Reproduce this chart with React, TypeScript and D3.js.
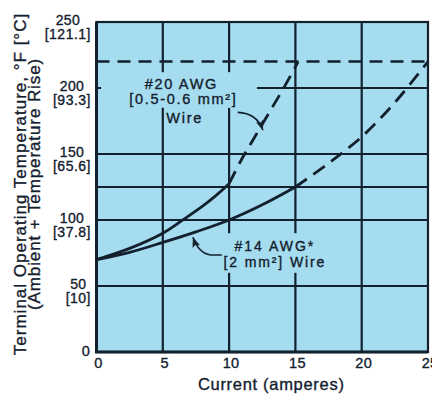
import { useEffect, useRef } from 'react';
import * as d3 from 'd3';

const WIDTH = 432;
const HEIGHT = 397;

// axis ticks: °F with °C in brackets
const tempTicksF = [0, 50, 100, 150, 200, 250];
const tempTicksC = ['', '[10]', '[37.8]', '[65.6]', '[93.3]', '[121.1]'];
const currentTicks = [0, 5, 10, 15, 20, 25];
const gridTemps = [50, 100, 125, 150, 200];
const limitTemp = 220;

// #20 AWG wire (solid up to ~125 °F, dashed beyond)
const awg20Amps = [0, 2.5, 5, 6.5, 8, 9, 10];
const awg20Temp = [70, 78.5, 90, 100, 110.5, 118.5, 127.5];
const awg20HotAmps = [10, 11, 12, 13, 14, 15, 15.2];
const awg20HotTemp = [127.5, 147, 164, 181, 198, 216, 220];

// #14 AWG wire
const awg14Amps = [0, 2.5, 5, 7.5, 10, 12.5, 15];
const awg14Temp = [70, 75.5, 83, 91, 100, 111.5, 125];
const awg14HotAmps = [15, 17.5, 20, 22.5, 25];
const awg14HotTemp = [125, 143, 163, 189, 220];

const INK = '#13202e';
const BLUE = '#a5dcef';
const FONT = '"Liberation Sans", Arial, Helvetica, sans-serif';

function App() {
    const ref = useRef<SVGSVGElement>(null);

    const draw = () => {
        const svg = d3.select(ref.current);
        svg.selectAll('*').remove();

        const x = d3.scaleLinear().domain([0, 25]).range([96.5, 428]);
        const y = d3.scaleLinear().domain([0, 250]).range([352, 22]);

        // plot background
        svg.append('rect')
            .attr('x', x(0)).attr('y', y(250))
            .attr('width', x(25) - x(0)).attr('height', y(0) - y(250))
            .attr('fill', BLUE);

        // grid
        const grid = svg.append('g').attr('stroke', INK).attr('stroke-width', 2.2);
        grid.selectAll('line.h')
            .data(gridTemps)
            .enter()
            .append('line')
            .attr('x1', x(0)).attr('x2', x(25))
            .attr('y1', d => y(d)).attr('y2', d => y(d));
        grid.selectAll('line.v')
            .data(currentTicks.slice(1, -1))
            .enter()
            .append('line')
            .attr('y1', y(0)).attr('y2', y(250))
            .attr('x1', d => x(d)).attr('x2', d => x(d));

        // 220 °F limit
        svg.append('line')
            .attr('x1', x(0)).attr('x2', x(25))
            .attr('y1', y(limitTemp)).attr('y2', y(limitTemp))
            .attr('stroke', INK).attr('stroke-width', 2.5)
            .attr('stroke-dasharray', '13,8');

        // knock out grid behind labels
        const knock = [
            [0.35, 12.1, 212, 185],
            [5.1, 8.1, 185, 172],
            [8.9, 18.5, 90, 60]
        ];
        svg.append('g').selectAll('rect')
            .data(knock)
            .enter()
            .append('rect')
            .attr('x', d => x(d[0])).attr('width', d => x(d[1]) - x(d[0]))
            .attr('y', d => y(d[2])).attr('height', d => y(d[3]) - y(d[2]))
            .attr('fill', BLUE);

        // frame
        svg.append('rect')
            .attr('x', x(0)).attr('y', y(250))
            .attr('width', x(25) - x(0)).attr('height', y(0) - y(250))
            .attr('fill', 'none').attr('stroke', INK).attr('stroke-width', 2.2);
        svg.append('path')
            .attr('d', `M${x(0)},${y(250)}V${y(0)}H${x(25)}`)
            .attr('fill', 'none').attr('stroke', INK).attr('stroke-width', 3);

        // curves
        const line = d3.line<[number, number]>()
            .x(d => x(d[0])).y(d => y(d[1]))
            .curve(d3.curveCatmullRom.alpha(0.5));
        const series = [
            { a: awg20Amps, t: awg20Temp, dash: null },
            { a: awg20HotAmps, t: awg20HotTemp, dash: '14,8' },
            { a: awg14Amps, t: awg14Temp, dash: null },
            { a: awg14HotAmps, t: awg14HotTemp, dash: '14,8' }
        ];
        series.forEach(s => {
            svg.append('path')
                .attr('d', line(s.a.map((v, i) => [v, s.t[i]] as [number, number])))
                .attr('fill', 'none').attr('stroke', INK).attr('stroke-width', 2.8)
                .attr('stroke-dasharray', s.dash);
        });

        // arrow marker
        svg.append('defs').append('marker')
            .attr('id', 'head')
            .attr('viewBox', '0 0 10 8')
            .attr('refX', 10).attr('refY', 4)
            .attr('markerWidth', 11).attr('markerHeight', 8)
            .attr('markerUnits', 'userSpaceOnUse')
            .attr('orient', 'auto')
            .append('path').attr('d', 'M0,0L10,4L0,8L2,4Z').attr('fill', INK);

        svg.append('path')
            .attr('d', `M${x(10.65)},${y(181.5)}Q${x(12.1)},${y(181)} ${x(12.55)},${y(168)}`)
            .attr('fill', 'none').attr('stroke', INK).attr('stroke-width', 1.6)
            .attr('marker-end', 'url(#head)');
        svg.append('path')
            .attr('d', `M${x(9.45)},${y(73.5)}L${x(8.6)},${y(73.5)}Q${x(7.7)},${y(75)} ${x(7.27)},${y(87)}`)
            .attr('fill', 'none').attr('stroke', INK).attr('stroke-width', 1.6)
            .attr('marker-end', 'url(#head)');

        // labels
        const txt = (tx: number, ty: number, s: string, anchor = 'middle', size = 14.5, ls = 1.7) =>
            svg.append('text')
                .attr('x', tx).attr('y', ty)
                .attr('text-anchor', anchor)
                .attr('font-family', FONT).attr('font-size', size)
                .attr('letter-spacing', ls)
                .attr('fill', INK)
                .attr('stroke', INK).attr('stroke-width', 0.35)
                .text(s);

        txt(x(6.4), y(199), '#20 AWG');
        txt(x(6.55), y(188), '[0.5-0.6 mm²]');
        txt(x(6.65), y(173.5), 'Wire');
        txt(x(13.45), y(76.5), '#14 AWG*', 'middle', 14, 2);
        txt(x(13.45), y(64.5), '[2 mm²] Wire', 'middle', 14, 1.9);

        // x tick labels
        currentTicks.forEach(t => {
            txt(x(t) + 2, 368, String(t), 'middle', 14.5, 0.3);
        });

        // y tick labels: number centred over the °C bracket
        const right = 91;
        tempTicksF.forEach((t, i) => {
            if (tempTicksC[i] === '') {
                txt(right - 1, y(t) + 4, String(t), 'end', 14.5, 0.3);
                return;
            }
            const c = txt(right, y(t) + 17, tempTicksC[i], 'end', 14, 0.5);
            const w = (c.node() as SVGTextElement).getComputedTextLength();
            txt(right - w / 2, y(t) + 2.5, String(t), 'middle', 14, 0.3);
        });

        // axis titles
        txt((x(0) + x(25)) / 2 + 9, 390, 'Current (amperes)', 'middle', 16.5, 0.7);
        const yt = svg.append('g').attr('transform', 'translate(0,184) rotate(-90)');
        yt.append('text')
            .attr('x', 0).attr('y', 25.5)
            .attr('text-anchor', 'middle')
            .attr('font-family', FONT).attr('font-size', 17).attr('letter-spacing', 1)
            .attr('fill', INK).attr('stroke', INK).attr('stroke-width', 0.35)
            .text('Terminal Operating Temperature, °F [°C]');
        yt.append('text')
            .attr('x', 0).attr('y', 39.5)
            .attr('text-anchor', 'middle')
            .attr('font-family', FONT).attr('font-size', 17).attr('letter-spacing', 0.9)
            .attr('fill', INK).attr('stroke', INK).attr('stroke-width', 0.35)
            .text('(Ambient + Temperature Rise)');
    };

    useEffect(() => draw(), []);

    return (
        <svg ref={ref} width={WIDTH} height={HEIGHT}
            style={{ position: 'absolute', left: 0, top: 0, background: '#fff' }} />
    );
}

export default App;
